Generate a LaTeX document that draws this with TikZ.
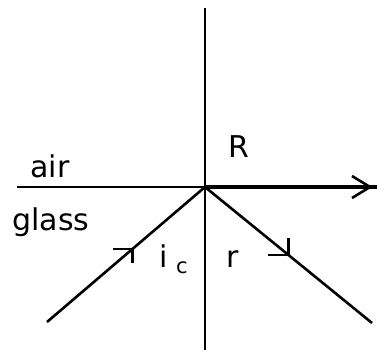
\documentclass[tikz,border=0pt]{standalone}
\usepackage{fontspec}
\setmainfont{DejaVu Sans}
\usetikzlibrary{positioning,calc}

\begin{document}
\begin{tikzpicture}[x=1pt,y=-1pt,
  line/.style={line width=2.6pt},
  surface ray/.style={line width=4.4pt},
  lbl/.style={inner sep=0pt,anchor=base,font=\fontsize{30}{32}\selectfont}]

\useasboundingbox (0,0) rectangle (377,350);

% --- Point of incidence and line ends
\coordinate (O) at (205,187);
\coordinate (normtop) at (205,8);
\coordinate (normbot) at (205,350);
\coordinate (left) at (17,187);
\coordinate (right) at (377,187);
\coordinate (tip) at (370,187);
\coordinate (incstart) at (47,322);
\coordinate (refend) at (372,323);

% --- Normal and boundary
\draw[line] (normtop) -- (normbot);
\draw[line] (left) -- (O);

% --- Refracted ray along the surface
\draw[surface ray] (O) -- (right);
\draw[line] ($(tip)+(-18,-11)$) -- (tip) -- ($(tip)+(-18,11)$);

% --- Incident ray
\draw[line] (incstart) -- (O);
\coordinate (incmark) at ($(O)!0.46!(incstart)$);
\draw[line] ($(incmark)+(-19,0)$) -- (incmark) -- ($(incmark)+(0,14)$);

% --- Reflected ray
\draw[line] (O) -- (refend);
\coordinate (refmark) at ($(O)!0.5!(refend)$);
\draw[line] ($(refmark)+(-21,0)$) -- (refmark) -- ($(refmark)+(0,-17)$);

% --- Labels
\node[lbl] (air) at (50,177) {air};
\node[lbl] (glass) at (51,230) {glass};
\node[lbl] (R) at (239,157) {R};
\node[lbl] (i) at (163.5,267) {i};
\node[lbl,anchor=base west,font=\fontsize{21}{23}\selectfont] (c) at (176,273) {c};
\node[lbl] (r) at (232.5,267) {r};

\end{tikzpicture}
\end{document}
